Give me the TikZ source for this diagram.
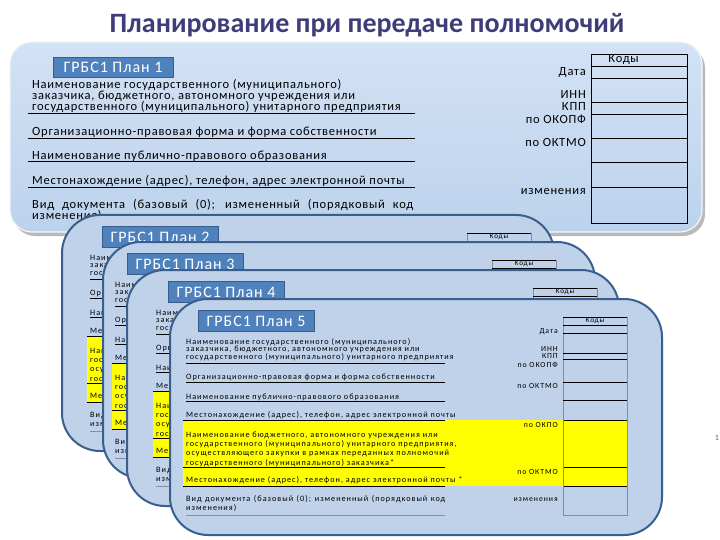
\documentclass[tikz,border=0pt]{standalone}
\usepackage{fontspec}
\setmainfont{Carlito}
\newfontfamily\formfont[LetterSpace=6]{Carlito}
\newfontfamily\smallform[LetterSpace=12]{Carlito}
\usepackage{tikz}
\definecolor{titleblue}{HTML}{3F3C79}
\definecolor{cardtop}{HTML}{D3E2F5}
\definecolor{cardbot}{HTML}{BCD2EC}
\definecolor{pagefill}{HTML}{BFD2EA}
\definecolor{pageedge}{HTML}{3A5F8F}
\definecolor{tagfill}{HTML}{4F81BD}
\definecolor{tagedge}{HTML}{385D8A}
\definecolor{hilite}{HTML}{FFFF00}
\definecolor{gridgray}{HTML}{7F8FA6}

\newcommand{\planpage}[4]{%
 \begin{scope}[shift={(#2,#3)}]
  \draw[page] (0,0) rectangle (492,236);
  \begin{scope}[xshift=#4]
   \fill[hilite] (13,121) rectangle (457,187);
   \node[tag,minimum width=116pt,minimum height=21pt] (tag#1) at (86,22) {ГРБС1 План #1};
   \node[pl] (name#1) at (16,50.5) {Наименование государственного (муниципального)\\заказчика, бюджетного, автономного учреждения или\\государственного (муниципального) унитарного предприятия};
   \node[pl] (org#1) at (16,78) {Организационно-правовая форма и форма собственности};
   \node[pl] (pub#1) at (16,98) {Наименование публично-правового образования};
   \node[pl] (addr#1) at (16,116) {Местонахождение (адрес), телефон, адрес электронной почты};
   \node[pl,font=\smallform\fontsize{8.2}{9.3}\selectfont] (inst#1) at (16,150) {Наименование бюджетного, автономного учреждения или\\государственного (муниципального) унитарного предприятия,\\осуществляющего закупки в рамках переданных полномочий\\государственного (муниципального) заказчика*};
   \node[pl] (iaddr#1) at (16,181) {Местонахождение (адрес), телефон, адрес электронной почты *};
   \node[pl,align=justify,text width=259pt,font=\smallform\fontsize{8.2}{9}\selectfont] (kind#1) at (16,204.5) {Вид документа (базовый (0); измененный (порядковый код\linebreak изменения)};
   \foreach \y in {64,83,102} \draw[rule] (16,\y) -- (275,\y);
   \foreach \y in {121,187} \draw[rule,line width=1pt] (13,\y) -- (275,\y) (393,\y) -- (457,\y);
   \draw[rule] (13,168) -- (275,168) (393,168) -- (457,168);
   \draw[rule,draw=gridgray] (16,216) -- (275,216);
   \draw[draw=gridgray] (393,18) -- (393,216) -- (457,216) -- (457,18);
   \draw[rule] (393,18) -- (457,18);
   \foreach \y in {26,34} \draw[rule,line width=1pt] (393,\y) -- (457,\y);
   \foreach \y in {54,60,83,101} \draw[rule] (393,\y) -- (457,\y);
   \node[font=\smallform\fontsize{7.2}{7.2}\selectfont,inner sep=0] (codes#1) at (425,22) {Коды};
   \node[pr] (date#1) at (388,33) {Дата};
   \node[pr] (inn#1) at (388,50) {ИНН};
   \node[pr] (kpp#1) at (388,57) {КПП};
   \node[pr] (okopf#1) at (388,66) {по ОКОПФ};
   \node[pr] (oktmo#1) at (388,87) {по ОКТМО};
   \node[pr] (okpo#1) at (388,126) {по ОКПО};
   \node[pr] (ioktmo#1) at (388,173) {по ОКТМО};
   \node[pr] (chg#1) at (388,201) {изменения};
  \end{scope}
 \end{scope}}

\begin{document}
\begin{tikzpicture}[x=1pt,y=-1pt,
 page/.style={draw=pageedge,line width=2pt,fill=pagefill,rounded corners=38pt},
 tag/.style={draw=tagedge,fill=tagfill,text=white,inner sep=0,font=\formfont\fontsize{16}{16}\selectfont},
 pl/.style={anchor=west,inner sep=0,align=left,font=\smallform\fontsize{8.2}{7.8}\selectfont},
 pr/.style={anchor=east,inner sep=0,font=\smallform\fontsize{7.8}{7.8}\selectfont},
 bl/.style={anchor=west,inner sep=0,align=left,font=\formfont\fontsize{12.5}{11.2}\selectfont},
 br/.style={anchor=east,inner sep=0,font=\formfont\fontsize{12.5}{12.5}\selectfont},
 rule/.style={draw=black,line width=0.6pt}]
 \useasboundingbox (0,0) rectangle (720,540);
 \fill[white] (0,0) rectangle (720,540);
 \node[font=\bfseries\fontsize{28}{30}\selectfont,text=titleblue] (title) at (367,25) {Планирование при передаче полномочий};
 \fill[black!45,opacity=0.6,rounded corners=22pt] (13,46) rectangle (705,236);
 \shade[top color=cardtop,bottom color=cardbot,rounded corners=22pt] (10,42) rectangle (702,232);
 \draw[white!70!cardtop,line width=1.2pt,rounded corners=22pt] (10,42) rectangle (702,232);
 \node[tag,minimum width=120pt,minimum height=20pt] (tag1) at (113,67) {ГРБС1 План 1};
 \node[bl] (name1) at (32,96) {Наименование государственного (муниципального)\\заказчика, бюджетного, автономного учреждения или\\государственного (муниципального) унитарного предприятия};
 \node[bl] (org1) at (32,132) {Организационно-правовая форма и форма собственности};
 \node[bl] (pub1) at (32,156) {Наименование публично-правового образования};
 \node[bl] (addr1) at (32,181) {Местонахождение (адрес), телефон, адрес электронной почты};
 \node[bl,align=justify,text width=381pt] (kind1) at (32,210.5) {Вид документа (базовый (0); измененный (порядковый код\linebreak изменения)};
 \foreach \y in {113,138,161,187} \draw[rule] (28,\y) -- (415,\y);
 \draw[rule] (591,54) rectangle (687,223);
 \foreach \y in {66,78,102,114,138,162,187} \draw[rule] (591,\y) -- (687,\y);
 \node[br] (codes1) at (639,60) {Коды};
 \node[br] (date1) at (586,72) {Дата};
 \node[br] (inn1) at (586,94) {ИНН};
 \node[br] (kpp1) at (586,106) {КПП};
 \node[br] (okopf1) at (586,119) {по ОКОПФ};
 \node[br] (oktmo1) at (586,142) {по ОКТМО};
 \node[br] (chg1) at (586,192) {изменения};
 \planpage{2}{62}{215}{12}
 \planpage{3}{103}{242}{-4}
 \planpage{4}{127}{270}{13}
 \planpage{5}{170}{299}{0}
 \node[font=\fontsize{8}{8}\selectfont,text=black!60] (slideno) at (717,438) {1};
\end{tikzpicture}
\end{document}
